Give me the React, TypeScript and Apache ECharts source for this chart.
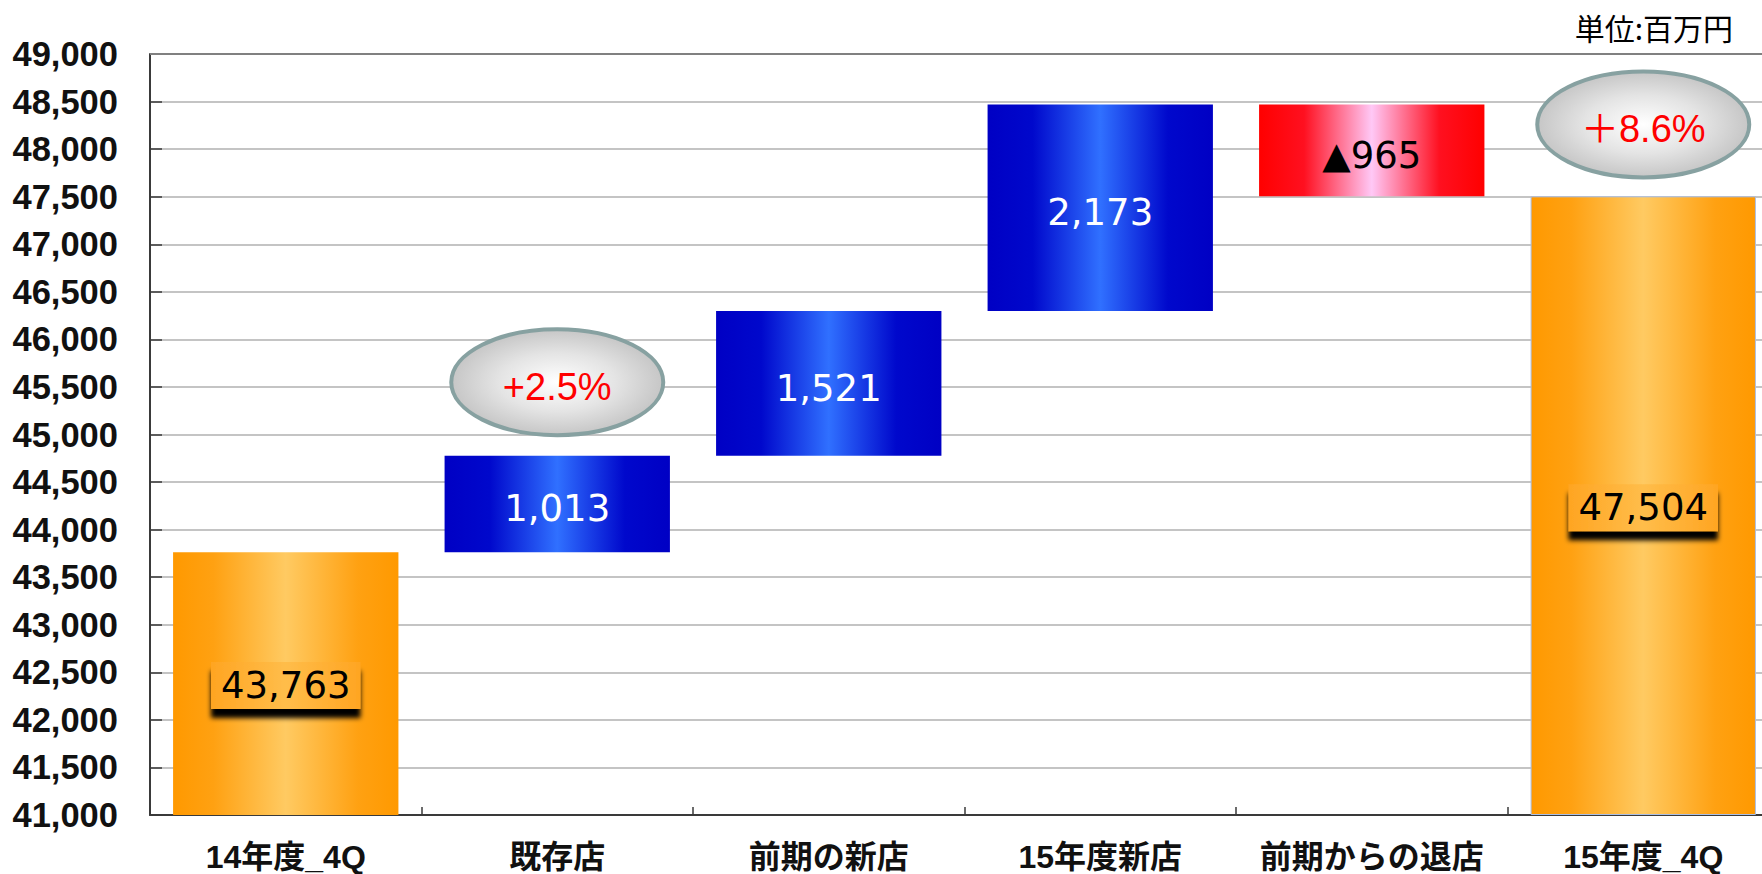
import React, { useEffect, useRef } from "react";
import * as echarts from "echarts";

// ---- data ----
const categories = ["14年度_4Q", "既存店", "前期の新店", "15年度新店", "前期からの退店", "15年度_4Q"];
const startTotal = 43763;
const endTotal = 47504;
const changes = [1013, 1521, 2173, -965];
const yMin = 41000;
const yMax = 49000;
const yInterval = 500;
const pctCategoryIdx = [1, 5];
const pctValuesY = [45550, 48260];
const pctLabels = ["+2.5%", "＋8.6%"];
const unitText = "単位:百万円";

const orangeGrad = () =>
  new echarts.graphic.LinearGradient(0, 0, 1, 0, [
    { offset: 0, color: "#ff9900" },
    { offset: 0.18, color: "#ffa112" },
    { offset: 0.5, color: "#ffca62" },
    { offset: 0.82, color: "#ffa112" },
    { offset: 1, color: "#ff9900" },
  ]);
const blueGrad = () =>
  new echarts.graphic.LinearGradient(0, 0, 1, 0, [
    { offset: 0, color: "#0000c4" },
    { offset: 0.2, color: "#0008cc" },
    { offset: 0.5, color: "#3070ff" },
    { offset: 0.8, color: "#0008cc" },
    { offset: 1, color: "#0000c4" },
  ]);
const redGrad = () =>
  new echarts.graphic.LinearGradient(0, 0, 1, 0, [
    { offset: 0, color: "#ff0000" },
    { offset: 0.2, color: "#ff1020" },
    { offset: 0.5, color: "#ffc8f6" },
    { offset: 0.8, color: "#ff1020" },
    { offset: 1, color: "#ff0000" },
  ]);

export default function App() {
  const ref = useRef<HTMLDivElement>(null);
  useEffect(() => {
    if (!ref.current) return;
    const chart = echarts.init(ref.current, undefined, { renderer: "svg" });

    // waterfall construction
    const base: number[] = [];
    const vals: number[] = [];
    const texts: string[] = [];
    const kinds: string[] = [];
    base.push(yMin);
    vals.push(startTotal - yMin);
    texts.push(startTotal.toLocaleString("en-US"));
    kinds.push("total");
    let run = startTotal;
    for (const c of changes) {
      if (c >= 0) {
        base.push(run);
        vals.push(c);
        run += c;
        texts.push(c.toLocaleString("en-US"));
        kinds.push("up");
      } else {
        run += c;
        base.push(run);
        vals.push(-c);
        texts.push("▲" + (-c).toLocaleString("en-US"));
        kinds.push("down");
      }
    }
    base.push(yMin);
    vals.push(endTotal - yMin);
    texts.push(endTotal.toLocaleString("en-US"));
    kinds.push("total");

    const labelFont = { fontFamily: "DejaVu Sans, Verdana, sans-serif", fontSize: 37 };

    const barData = vals.map((v, i) => {
      const k = kinds[i];
      if (k === "total") {
        return {
          value: v,
          itemStyle: {
            color: orangeGrad(),
            borderColor: i === vals.length - 1 ? "#a8bfe8" : "transparent",
            borderWidth: i === vals.length - 1 ? 1 : 0,
          },
          label: {
            show: true,
            position: "inside",
            offset: [0, 2],
            formatter: () => texts[i],
            color: "#000",
            ...labelFont,
            backgroundColor: new echarts.graphic.LinearGradient(0, 0, 1, 0, [
              { offset: 0, color: "#ffa522" },
              { offset: 0.5, color: "#ffbd4a" },
              { offset: 1, color: "#ffa522" },
            ]),
            padding: [6, 10, 4, 10],
            shadowColor: "rgba(0,0,0,1)",
            shadowBlur: 5,
            shadowOffsetY: 9,
          },
        };
      }
      return {
        value: v,
        itemStyle: { color: k === "up" ? blueGrad() : redGrad() },
        label: {
          show: true,
          position: "inside",
          offset: [0, 5],
          formatter: () => texts[i],
          color: k === "up" ? "#ffffff" : "#000000",
          ...labelFont,
        },
      };
    });

    const pctData = pctCategoryIdx.map((c, i) => [c, pctValuesY[i], i]);

    chart.setOption({
      animation: false,
      backgroundColor: "#ffffff",
      grid: {
        left: 150,
        right: -17,
        top: 54,
        bottom: 59,
        containLabel: false,
        outerBoundsMode: "none",
      },
      graphic: [
        {
          type: "text",
          right: 29,
          top: 12,
          style: {
            text: unitText,
            fill: "#000",
            fontSize: 30,
            fontFamily: "Noto Sans CJK JP, sans-serif",
          },
        },
      ],
      xAxis: {
        type: "category",
        data: categories,
        axisLine: { lineStyle: { color: "#3a3a3a", width: 2 } },
        axisTick: { show: true, inside: true, length: 8, lineStyle: { color: "#3a3a3a", width: 1.5 } },
        axisLabel: {
          color: "#111",
          fontWeight: "bold",
          fontSize: 32,
          fontFamily: "Liberation Sans, Noto Sans CJK JP, sans-serif",
          margin: 26,
          interval: 0,
        },
        splitLine: { show: false },
      },
      yAxis: {
        type: "value",
        min: yMin,
        max: yMax,
        interval: yInterval,
        axisLine: { show: true, lineStyle: { color: "#3a3a3a", width: 2 } },
        axisTick: { show: true, inside: true, length: 12, lineStyle: { color: "#3a3a3a", width: 1.5 } },
        axisLabel: {
          color: "#111",
          fontWeight: "bold",
          fontSize: 34.5,
          fontFamily: "Liberation Sans, Arial, sans-serif",
          margin: 32,
          formatter: (v: number) => v.toLocaleString("en-US"),
        },
        splitLine: { show: true, lineStyle: { color: "#c4c4c4", width: 2 } },
      },
      series: [
        {
          type: "bar",
          stack: "wf",
          data: base,
          itemStyle: { color: "transparent" },
          silent: true,
          barCategoryGap: "17%",
          markLine: {
            silent: true,
            symbol: "none",
            label: { show: false },
            lineStyle: { color: "#808080", width: 2, type: "solid" },
            data: [{ yAxis: yMax }],
          },
        },
        {
          type: "bar",
          stack: "wf",
          data: barData,
          barCategoryGap: "17%",
        },
        {
          type: "custom",
          clip: false,
          z: 10,
          data: pctData,
          renderItem: (params: any, api: any) => {
            const p = api.coord([api.value(0), api.value(1)]);
            const idx = api.value(2);
            return {
              type: "group",
              children: [
                {
                  type: "ellipse",
                  shape: { cx: p[0], cy: p[1], rx: 106, ry: 53 },
                  style: {
                    fill: new echarts.graphic.RadialGradient(0.5, 0.5, 0.5, [
                      { offset: 0, color: "#ffffff" },
                      { offset: 0.55, color: "#e4e4e4" },
                      { offset: 1, color: "#c6c6c6" },
                    ]),
                    stroke: "#87a1a1",
                    lineWidth: 4,
                  },
                },
                {
                  type: "text",
                  x: p[0],
                  y: p[1] + 5,
                  style: {
                    text: pctLabels[idx],
                    fill: "#ff0000",
                    fontSize: 38,
                    fontFamily: "Liberation Sans, Noto Sans CJK JP, sans-serif",
                    align: "center",
                    verticalAlign: "middle",
                  },
                },
              ],
            };
          },
        },
      ],
    });
    return () => chart.dispose();
  }, []);
  return (
    <div
      ref={ref}
      style={{ position: "absolute", left: 0, top: 0, width: 1762, height: 874, background: "#fff" }}
    />
  );
}
